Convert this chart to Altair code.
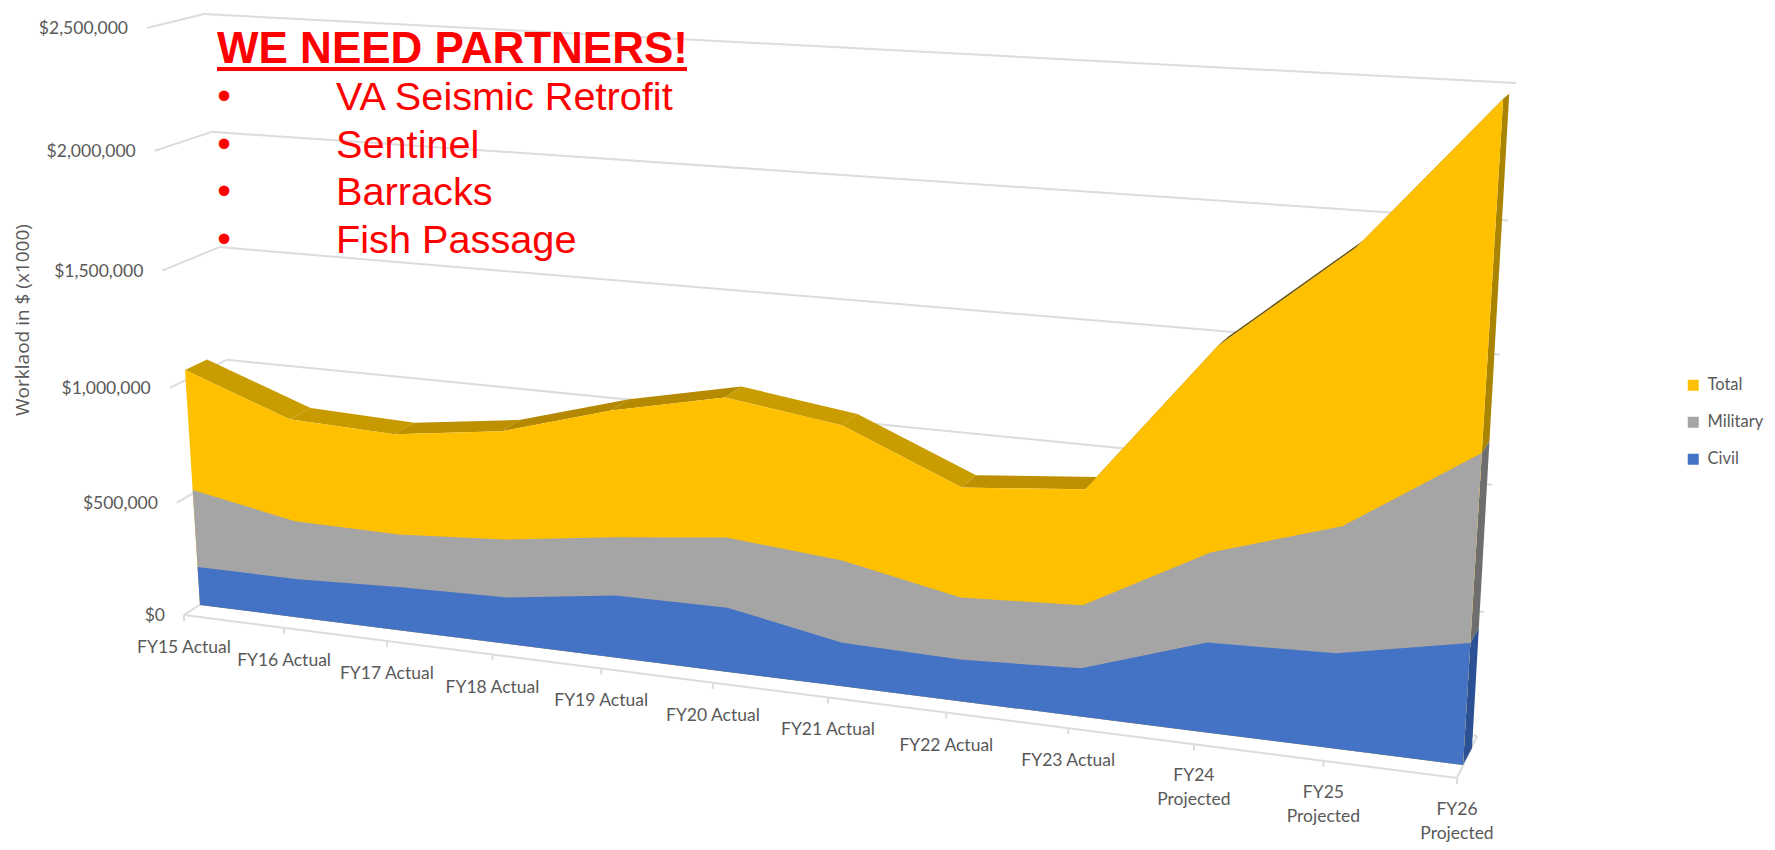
import altair as alt
import pandas as pd

# ---------- values ----------
categories = ["FY15 Actual", "FY16 Actual", "FY17 Actual", "FY18 Actual", "FY19 Actual", "FY20 Actual",
              "FY21 Actual", "FY22 Actual", "FY23 Actual", "FY24\nProjected", "FY25\nProjected", "FY26\nProjected"]
civil = [172000, 172000, 192000, 203000, 267000, 272000, 183000, 172000, 196000, 359000, 375000, 473000]
military = [345000, 257000, 231000, 250000, 247000, 293000, 340000, 254000, 254000, 354000, 490000, 715000]
total = [527000, 445000, 431000, 459000, 529000, 574000, 547000, 442000, 459000, 787000, 1032000, 1264000]
y_ticks = [0, 500000, 1000000, 1500000, 2000000, 2500000]
y_labels = ["$0", "$500,000", "$1,000,000", "$1,500,000", "$2,000,000", "$2,500,000"]
callout_title = "WE NEED PARTNERS!"
callout_items = ["VA Seismic Retrofit", "Sentinel", "Barracks", "Fish Passage"]
series_names = ["Total", "Military", "Civil"]
series_colors = ["#FFC000", "#A5A5A5", "#4472C4"]
axis_title = "Worklaod in $ (x1000)"
band_colors = ["#C99C00", "#C79A00", "#BC9000", "#B48800", "#B58A00", "#C99C00",
               "#C99C00", "#BC9000", "#8A6C10", "#6E5A14", "#6E5A14"]
side_colors = {"Total": "#A98400", "Military": "#6E6E6E", "Civil": "#2B5093"}
VMAX = 2500000.0
N = len(categories)


# ---------- 3-D look: a perspective map from (category, value) to the page ----------
def homography(p00, p10, p11, p01, bow=0.0):
    x0, y0 = p00; x1, y1 = p10; x2, y2 = p11; x3, y3 = p01
    dx1, dx2, sx = x1 - x2, x3 - x2, x0 - x1 + x2 - x3
    dy1, dy2, sy = y1 - y2, y3 - y2, y0 - y1 + y2 - y3
    det = dx1 * dy2 - dx2 * dy1
    g = (sx * dy2 - dx2 * sy) / det
    h = (dx1 * sy - sx * dy1) / det
    a, b, c = x1 - x0 + g * x1, x3 - x0 + h * x3, x0
    d, e, f = y1 - y0 + g * y1, y3 - y0 + h * y3, y0

    def project(u, v):
        t = (u + bow * u * (N - 1 - u) / ((N - 1) / 2) ** 2) / (N - 1)
        s = v / VMAX
        w = g * t + h * s + 1
        return (a * t + b * s + c) / w, (d * t + e * s + f) / w
    return project


data_front = homography((200, 605), (1463, 765), (1504, 85), (163, 24), bow=0.04)
data_back = homography((222, 591), (1472, 748), (1510, 80), (185, 19), bow=0.04)
wall_front = homography((184, 615), (1457, 778), (1499, 94), (147, 28))
wall_back = homography((241, 578), (1477, 736), (1516, 83), (204, 14))

cum_c = list(civil)
cum_m = [a + b for a, b in zip(civil, military)]
cum_t = [a + b for a, b in zip(cum_m, total)]
zero = [0] * N


def stack_poly(name, tops):
    rows = []
    for i in range(N):
        x, y = data_front(i, tops[i])
        rows.append(dict(series=name, x=x, y=y, k=i))
    for i in range(N - 1, -1, -1):
        x, y = data_front(i, 0)
        rows.append(dict(series=name, x=x, y=y, k=2 * N - i))
    return rows


X = alt.X("x:Q", scale=alt.Scale(domain=[8, 1767], nice=False, zero=False), axis=None)
Y = alt.Y("y:Q", scale=alt.Scale(domain=[842, 8], nice=False, zero=False), axis=None)
FILL = alt.Fill(
    "series:N",
    scale=alt.Scale(domain=series_names, range=series_colors),
    legend=alt.Legend(
        title=None, orient="none", legendX=1677, legendY=369, symbolType="square", symbolSize=121,
        symbolStrokeWidth=0, labelFont="Lato", labelFontSize=16.5, labelColor="#595959",
        rowPadding=20, labelOffset=6, values=series_names,
    ),
)

# gridlines, stubs, floor
rules = []
for v in y_ticks:
    a, b = wall_front(0, v), wall_back(0, v)
    c = wall_back(N - 1, v)
    rules.append(dict(x=a[0], y=a[1], x2=b[0], y2=b[1]))
    rules.append(dict(x=b[0], y=b[1], x2=c[0], y2=c[1]))
a, b = wall_front(0, 0), wall_front(N - 1, 0)
rules.append(dict(x=a[0], y=a[1], x2=b[0], y2=b[1]))
c = wall_back(N - 1, 0)
rules.append(dict(x=b[0], y=b[1], x2=c[0], y2=c[1]))
cat_rows = []
for i, lab in enumerate(categories):
    x, y = wall_front(i, 0)
    rules.append(dict(x=x, y=y, x2=x, y2=y + 6))
    cat_rows.append(dict(x=x, y=y + (32 if "\n" in lab else 33), label=lab))
grid = alt.Chart(pd.DataFrame(rules)).mark_rule(color="#DCDCDC", strokeWidth=2).encode(
    x=X, y=Y, x2="x2:Q", y2="y2:Q")

# depth faces
faces = []
for i in range(N - 1):
    quad = [data_front(i, cum_t[i]), data_front(i + 1, cum_t[i + 1]),
            data_back(i + 1, cum_t[i + 1]), data_back(i, cum_t[i])]
    for k, (x, y) in enumerate(quad):
        faces.append(dict(poly="t%d" % i, color=band_colors[i], x=x, y=y, k=k))
for name, lo, hi in [("Total", cum_m, cum_t), ("Military", cum_c, cum_m), ("Civil", zero, cum_c)]:
    i = N - 1
    quad = [data_front(i, lo[i]), data_front(i, hi[i]), data_back(i, hi[i]), data_back(i, lo[i])]
    for k, (x, y) in enumerate(quad):
        faces.append(dict(poly="s" + name, color=side_colors[name], x=x, y=y, k=k))
face_layer = alt.Chart(pd.DataFrame(faces)).mark_line(interpolate="linear-closed", strokeWidth=0).encode(
    x=X, y=Y, order="k:Q", detail="poly:N", fill=alt.Fill("color:N", scale=None))


def area_layer(name, tops):
    return alt.Chart(pd.DataFrame(stack_poly(name, tops))).mark_line(
        interpolate="linear-closed", strokeWidth=0).encode(x=X, y=Y, order="k:Q", fill=FILL)


text_color = "#595959"
cat_text = alt.Chart(pd.DataFrame(cat_rows)).mark_text(
    font="Lato", fontSize=17.5, color=text_color, baseline="middle", align="center",
    lineBreak="\n", lineHeight=24).encode(x=X, y=Y, text="label:N")

val_rows = []
for v, lab in zip(y_ticks, y_labels):
    x, y = wall_front(0, v)
    val_rows.append(dict(x=x - 19, y=y + 1, label=lab))
val_text = alt.Chart(pd.DataFrame(val_rows)).mark_text(
    font="Lato", fontSize=17.5, color=text_color, baseline="middle", align="right").encode(
    x=X, y=Y, text="label:N")

title_text = alt.Chart(pd.DataFrame([dict(x=23, y=320, label=axis_title)])).mark_text(
    font="Open Sans", fontSize=19, color=text_color, angle=270, baseline="middle", align="center").encode(
    x=X, y=Y, text="label:N")

head = alt.Chart(pd.DataFrame([dict(x=217, y=63, label=callout_title)])).mark_text(
    font="Liberation Sans", fontWeight="bold", fontSize=44, color="#FF0000", align="left",
    baseline="alphabetic").encode(x=X, y=Y, text="label:N")
underline = alt.Chart(pd.DataFrame([dict(x=217, x2=687, y=69)])).mark_rule(
    color="#FF0000", strokeWidth=4).encode(x=X, y=Y, x2="x2:Q")
baselines = [110, 158, 205, 253]
items = alt.Chart(pd.DataFrame([dict(x=336, y=b, label=t) for b, t in zip(baselines, callout_items)])).mark_text(
    font="Liberation Sans", fontSize=39.7, color="#FF0000", align="left", baseline="alphabetic").encode(
    x=X, y=Y, text="label:N")
bullets = alt.Chart(pd.DataFrame([dict(x=224, y=b - 1, label="\u2022") for b in baselines])).mark_text(
    font="Liberation Sans", fontSize=39, color="#FF0000", align="center", baseline="alphabetic").encode(
    x=X, y=Y, text="label:N")

chart = alt.layer(
    grid, face_layer,
    area_layer("Total", cum_t), area_layer("Military", cum_m), area_layer("Civil", cum_c),
    cat_text, val_text, title_text, head, underline, items, bullets,
).properties(width=1759, height=834, padding=0, autosize=alt.AutoSizeParams(type="none")).configure_view(stroke=None)

chart.save("out.html", embed_options={"renderer": "svg", "actions": False})
